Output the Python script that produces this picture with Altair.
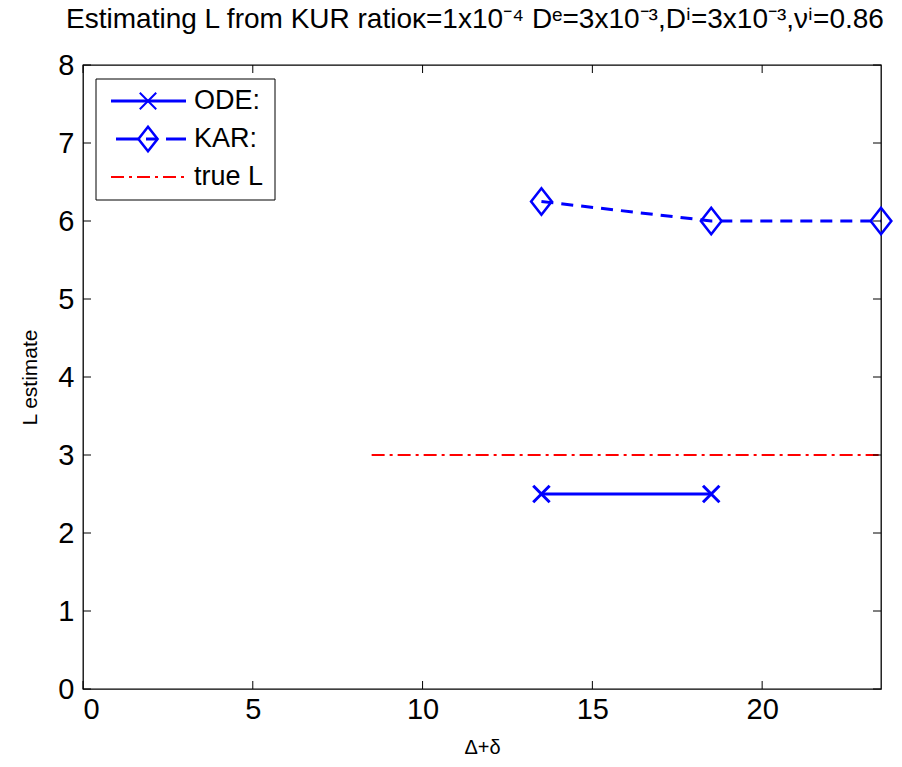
import altair as alt
import pandas as pd

# ---- data ----
ode_x = [13.5, 18.5]
ode_y = [2.5, 2.5]
kar_x = [13.5, 18.5, 23.5]
kar_y = [6.25, 6.0, 6.0]
true_x = [8.5, 23.5]
true_y = [3.0, 3.0]
x_ticks = [0, 5, 10, 15, 20]
y_ticks = [0, 1, 2, 3, 4, 5, 6, 7, 8]
legend_labels = ["ODE:", "KAR:", "true L"]
title_text = "Estimating L from KUR ratio\u03ba=1x10\u207b\u2074 D\u1d49=3x10\u207b\u00b3,D\u2071=3x10\u207b\u00b3,\u03bd\u2071=0.86"

FONT = "Liberation Sans, Arial, sans-serif"
W, H = 798, 624
XMAX, YMAX = 23.5, 8
BLUE = "#0000ff"
RED = "#ff0000"

xs = alt.Scale(domain=[0, XMAX], nice=False, zero=False)
ys = alt.Scale(domain=[0, YMAX], nice=False, zero=False)

ode = pd.DataFrame({"x": ode_x, "y": ode_y})
kar = pd.DataFrame({"x": kar_x, "y": kar_y})
tru = pd.DataFrame({"x": true_x, "y": true_y})
xt = pd.DataFrame({"t": x_ticks})
yt = pd.DataFrame({"t": y_ticks})
one = pd.DataFrame({"a": [0]})

X_CROSS = "M-1,-1L1,1M1,-1L-1,1"
DIAMOND = "M-0.78,0L0,-1L0.78,0L0,1Z"

base_x = alt.X("x:Q", scale=xs, axis=alt.Axis(
    values=x_ticks, format="d", title="\u0394+\u03b4", grid=False, tickSize=0, domain=False,
    labelFont=FONT, labelFontSize=29, labelColor="black", labelPadding=6,
    titleFont=FONT, titleFontSize=20, titleFontWeight="normal", titleColor="black",
    titleY=58, titleBaseline="middle"))
base_y = alt.Y("y:Q", scale=ys, axis=alt.Axis(
    values=y_ticks, format="d", title="L estimate", grid=False, tickSize=0, domain=False,
    labelFont=FONT, labelFontSize=29, labelColor="black", labelPadding=9,
    titleFont=FONT, titleFontSize=21, titleFontWeight="normal", titleColor="black",
    titleX=-53, titleY=H / 2, titleBaseline="middle", titleAlign="center"))

true_line = alt.Chart(tru).mark_line(color=RED, strokeWidth=2.2, strokeDash=[13, 5, 3, 5]).encode(
    x=base_x, y=base_y)
ode_line = alt.Chart(ode).mark_line(color=BLUE, strokeWidth=3).encode(
    x=alt.X("x:Q", scale=xs), y=alt.Y("y:Q", scale=ys))
ode_pts = alt.Chart(ode).mark_point(shape=X_CROSS, size=270, color=BLUE, strokeWidth=3,
                                    filled=False, opacity=1).encode(
    x=alt.X("x:Q", scale=xs), y=alt.Y("y:Q", scale=ys))
kar_line = alt.Chart(kar).mark_line(color=BLUE, strokeWidth=3, strokeDash=[12, 8]).encode(
    x=alt.X("x:Q", scale=xs), y=alt.Y("y:Q", scale=ys))
kar_pts = alt.Chart(kar).mark_point(shape=DIAMOND, size=700, color=BLUE, strokeWidth=2.6,
                                    filled=False, opacity=1).encode(
    x=alt.X("x:Q", scale=xs), y=alt.Y("y:Q", scale=ys))

# inside ticks on all four sides
TL = 8
tick_bottom = alt.Chart(xt).mark_rule(color="black", strokeWidth=1).encode(
    x=alt.X("t:Q", scale=xs), y=alt.value(H), y2=alt.value(H - TL))
tick_top = alt.Chart(xt).mark_rule(color="black", strokeWidth=1).encode(
    x=alt.X("t:Q", scale=xs), y=alt.value(0), y2=alt.value(TL))
tick_left = alt.Chart(yt).mark_rule(color="black", strokeWidth=1).encode(
    y=alt.Y("t:Q", scale=ys), x=alt.value(0), x2=alt.value(TL))
tick_right = alt.Chart(yt).mark_rule(color="black", strokeWidth=1).encode(
    y=alt.Y("t:Q", scale=ys), x=alt.value(W), x2=alt.value(W - TL))

# legend
LX0, LX1, LY0, LY1 = 13, 192, 14, 135
ly = [36, 74, 112]
lx0, lx1, lxm, ltx = 28, 103, 65, 111
leg_box = alt.Chart(one).mark_rect(fill="white", stroke="black", strokeWidth=1).encode(
    x=alt.value(LX0), x2=alt.value(LX1), y=alt.value(LY0), y2=alt.value(LY1))
leg_ode_line = alt.Chart(one).mark_rule(color=BLUE, strokeWidth=3).encode(
    x=alt.value(lx0), x2=alt.value(lx1), y=alt.value(ly[0]))
leg_ode_pt = alt.Chart(one).mark_point(shape=X_CROSS, size=270, color=BLUE, strokeWidth=2,
                                       filled=False, opacity=1).encode(
    x=alt.value(lxm), y=alt.value(ly[0]))
leg_kar_line = alt.Chart(one).mark_rule(color=BLUE, strokeWidth=3, strokeDash=[22, 8, 12, 8]).encode(
    x=alt.value(lx0 + 5), x2=alt.value(lx1), y=alt.value(ly[1]))
leg_kar_pt = alt.Chart(one).mark_point(shape=DIAMOND, size=600, color=BLUE, strokeWidth=2.6,
                                       filled=False, opacity=1).encode(
    x=alt.value(lxm), y=alt.value(ly[1]))
leg_true_line = alt.Chart(one).mark_rule(color=RED, strokeWidth=2.2, strokeDash=[13, 5, 3, 5]).encode(
    x=alt.value(lx0), x2=alt.value(lx1), y=alt.value(ly[2]))
leg_texts = [
    alt.Chart(pd.DataFrame({"label": [lab]})).mark_text(
        align="left", baseline="middle", font=FONT, fontSize=27, color="black").encode(
        x=alt.value(ltx), y=alt.value(ly[i]), text="label:N")
    for i, lab in enumerate(legend_labels)
]

chart = alt.layer(
    true_line, ode_line, ode_pts, kar_line, kar_pts,
    tick_bottom, tick_top, tick_left, tick_right,
    leg_box, leg_ode_line, leg_ode_pt, leg_kar_line, leg_kar_pt, leg_true_line, *leg_texts,
).properties(
    width=W, height=H,
    title=alt.TitleParams(title_text, font=FONT, fontSize=28, fontWeight="normal",
                          color="black", anchor="middle", offset=17, dx=-7),
    autosize=alt.AutoSizeParams(type="none"),
    padding={"left": 83, "top": 65, "right": 21, "bottom": 78},
    background="white",
).configure_view(stroke="black", strokeWidth=1.3)

chart.save("out.html", embed_options={"renderer": "svg", "actions": False})
